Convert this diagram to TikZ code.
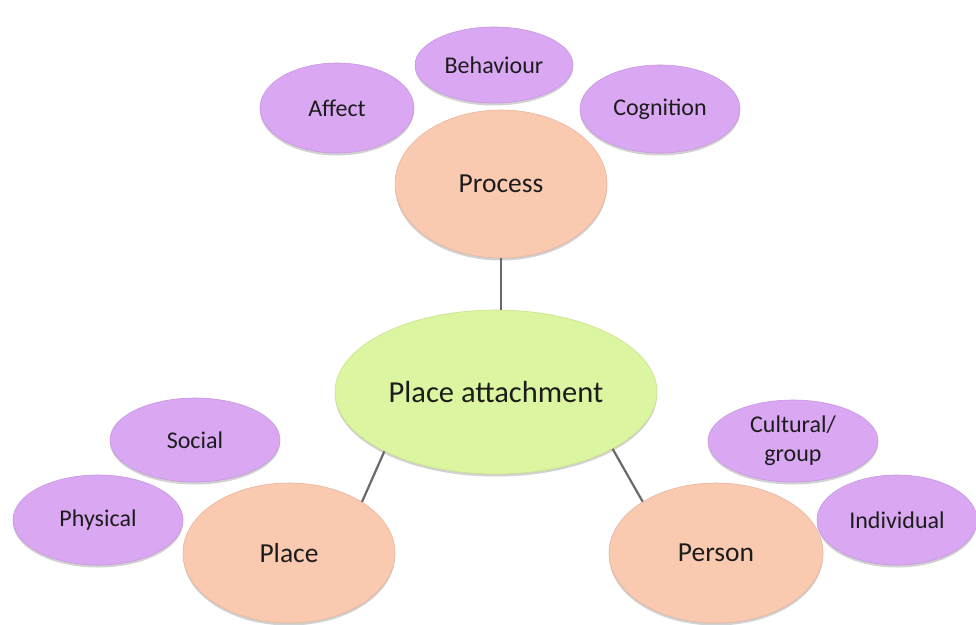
\documentclass[tikz,border=0pt]{standalone}
\usepackage{fontspec}
\setmainfont{Carlito}
\usetikzlibrary{shapes.geometric,shadows}
\definecolor{lilac}{RGB}{218,168,242}
\definecolor{lilacedge}{RGB}{200,150,226}
\definecolor{peach}{RGB}{249,201,176}
\definecolor{peachedge}{RGB}{232,182,158}
\definecolor{lime}{RGB}{220,245,160}
\definecolor{limeedge}{RGB}{200,228,140}
\definecolor{ink}{RGB}{28,28,28}
\definecolor{linkgrey}{RGB}{105,105,105}
\begin{document}
\begin{tikzpicture}[x=1pt,y=-1pt,
  bubble/.style={ellipse, inner sep=0pt, text=ink, align=center,
    drop shadow={shadow xshift=0pt, shadow yshift=-2.5pt, opacity=0.18, fill=black}},
  leaf/.style={bubble, fill=lilac, draw=lilacedge, line width=0.6pt,
    font=\fontsize{24}{29}\selectfont},
  branch/.style={bubble, fill=peach, draw=peachedge, line width=0.6pt,
    font=\fontsize{27.5}{32}\selectfont},
  hub/.style={bubble, fill=lime, draw=limeedge, line width=0.6pt,
    font=\fontsize{30.5}{36}\selectfont},
  link/.style={draw=linkgrey, line width=2.2pt}]
\path[use as bounding box, fill=white] (0,0) rectangle (976,624);

% top group
\node[leaf, minimum width=158pt, minimum height=76pt] (behaviour) at (494,65) {Behaviour};
\node[leaf, minimum width=154pt, minimum height=90pt] (affect) at (337,108) {Affect};
\node[leaf, minimum width=160pt, minimum height=88pt] (cognition) at (660,109) {Cognition};
\node[branch, minimum width=212pt, minimum height=148pt] (process) at (501,184) {Process};

% centre
\node[hub, minimum width=322pt, minimum height=164pt] (attach) at (496,392) {Place attachment};

% left group
\node[leaf, minimum width=170pt, minimum height=84pt] (social) at (195,440) {Social};
\node[leaf, minimum width=170pt, minimum height=90pt] (physical) at (98,520) {Physical};
\node[branch, minimum width=212pt, minimum height=140pt] (place) at (289,553) {Place};

% right group
\node[leaf, minimum width=170pt, minimum height=82pt] (cultural) at (793,441) {Cultural/\\group};
\node[leaf, minimum width=160pt, minimum height=90pt] (individual) at (897,520) {Individual};
\node[branch, minimum width=214pt, minimum height=140pt] (person) at (716,553) {Person};

% connectors
\draw[link] (process.south) -- (process.south |- attach.north);
\draw[link] (attach.208) -- (place.35);
\draw[link] (attach.-26) -- (person.145);
\end{tikzpicture}
\end{document}
